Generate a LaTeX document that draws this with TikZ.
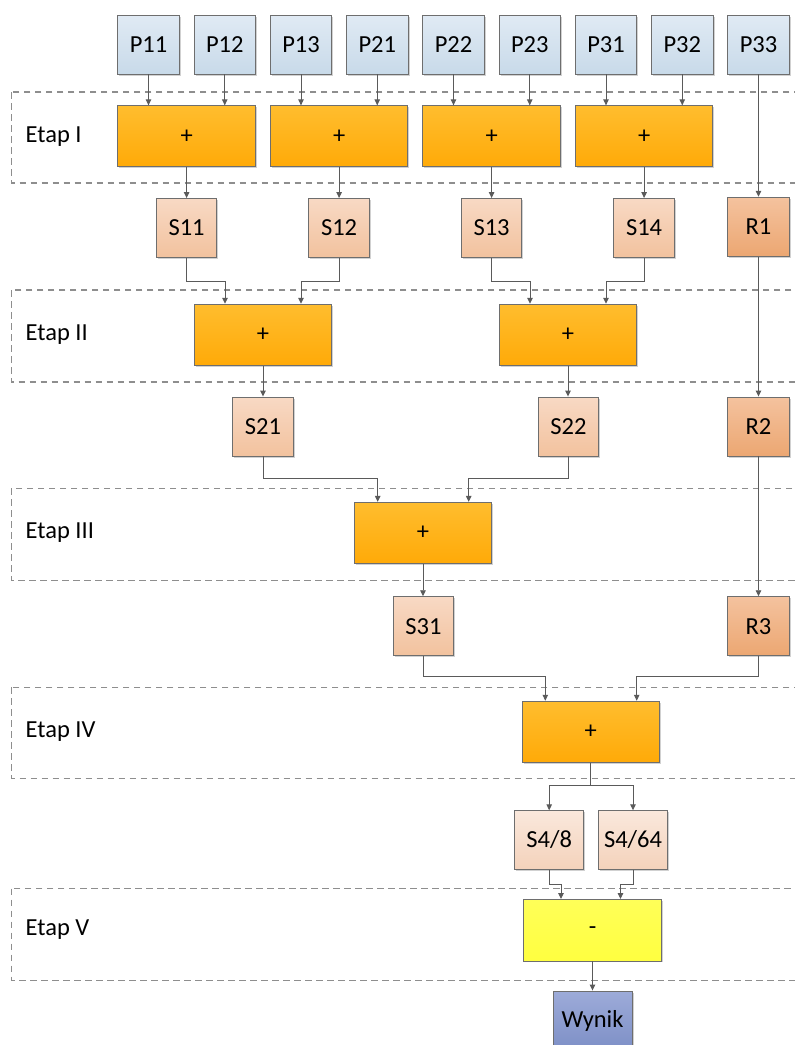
\documentclass[tikz,border=0pt]{standalone}
\usepackage{fontspec}
\setmainfont{Carlito}
\usetikzlibrary{arrows.meta,shadows}

\definecolor{boxline}{HTML}{6E6E6E}
\definecolor{lineC}{HTML}{5A5A5A}
\definecolor{dashC}{HTML}{8E8E8E}
\definecolor{pTop}{HTML}{E0EAF4}
\definecolor{pBot}{HTML}{C8DAE9}
\definecolor{oTop}{HTML}{FFBD2E}
\definecolor{oBot}{HTML}{FFAA08}
\definecolor{sTop}{HTML}{F8D9C4}
\definecolor{sBot}{HTML}{F2C29E}
\definecolor{rTop}{HTML}{F4C29E}
\definecolor{rBot}{HTML}{ECA772}
\definecolor{qTop}{HTML}{FAE8DC}
\definecolor{qBot}{HTML}{F4D2BB}
\definecolor{yTop}{HTML}{FFFF58}
\definecolor{yBot}{HTML}{FFFF40}
\definecolor{wTop}{HTML}{9DABD9}
\definecolor{wBot}{HTML}{7D8FC6}

\tikzset{
  txt/.style={font=\fontsize{24.5}{29}\selectfont, text=black},
  box/.style={txt, draw=boxline, line width=0.9pt, inner sep=0pt,
    minimum width=61.5pt, minimum height=59pt,
    drop shadow={shadow xshift=1.5pt, shadow yshift=-1.5pt, opacity=0.18, fill=black}},
  inbox/.style={box, top color=pTop, bottom color=pBot},
  addbox/.style={box, top color=oTop, bottom color=oBot, minimum width=137.5pt, minimum height=61pt},
  subbox/.style={box, top color=yTop, bottom color=yBot, minimum width=137.5pt, minimum height=61.5pt},
  sumbox/.style={box, top color=sTop, bottom color=sBot, minimum width=60.5pt},
  restbox/.style={box, top color=rTop, bottom color=rBot},
  divbox/.style={box, top color=qTop, bottom color=qBot, minimum width=69pt, minimum height=58.5pt},
  outbox/.style={box, top color=wTop, bottom color=wBot, minimum width=79pt, minimum height=60pt},
  band/.style={draw=dashC, line width=1.1pt, dash pattern=on 6.5pt off 4.5pt},
  lab/.style={txt, anchor=west, inner sep=0pt},
  conn/.style={draw=lineC, line width=0.9pt, -{Triangle[width=5.5pt,length=6pt]}},
}

\begin{document}
\begin{tikzpicture}[x=1pt, y=-1pt]
\useasboundingbox (0,0) rectangle (795,1045);
\clip (0,0) rectangle (795,1045);

% stage bands
\draw[band] (11.7,92) rectangle (810,183);
\draw[band] (11.7,290) rectangle (810,382);
\draw[band] (11.7,488.3) rectangle (810,580.7);
\draw[band] (11.7,687.3) rectangle (810,778.3);
\draw[band] (11.7,888.7) rectangle (810,980.3);

\node[lab] (L1) at (25.5,137) {Etap I};
\node[lab] (L2) at (25.5,335) {Etap II};
\node[lab] (L3) at (25.5,533) {Etap III};
\node[lab] (L4) at (25.5,731.5) {Etap IV};
\node[lab] (L5) at (25.5,930) {Etap V};

% inputs
\node[inbox] (P11) at (148.5,44.5) {P11};
\node[inbox] (P12) at (224.75,44.5) {P12};
\node[inbox] (P13) at (301,44.5) {P13};
\node[inbox] (P21) at (377.25,44.5) {P21};
\node[inbox] (P22) at (453.5,44.5) {P22};
\node[inbox] (P23) at (529.75,44.5) {P23};
\node[inbox] (P31) at (606,44.5) {P31};
\node[inbox] (P32) at (682.25,44.5) {P32};
\node[inbox] (P33) at (758.5,44.5) {P33};

% stage I
\node[addbox] (A1) at (186.6,136.3) {+};
\node[addbox] (A2) at (339.1,136.3) {+};
\node[addbox] (A3) at (491.6,136.3) {+};
\node[addbox] (A4) at (644.1,136.3) {+};

\node[sumbox] (S11) at (186.6,228) {S11};
\node[sumbox] (S12) at (339.1,228) {S12};
\node[sumbox] (S13) at (491.6,228) {S13};
\node[sumbox] (S14) at (644.1,228) {S14};
\node[restbox] (R1) at (758.5,226.7) {R1};

% stage II
\node[addbox] (B1) at (263,334.7) {+};
\node[addbox] (B2) at (568,334.7) {+};

\node[sumbox] (S21) at (263,426.5) {S21};
\node[sumbox] (S22) at (568.5,426.5) {S22};
\node[restbox] (R2) at (758.5,426.5) {R2};

% stage III
\node[addbox] (C1) at (423,532.8) {+};

\node[sumbox] (S31) at (423.5,626.2) {S31};
\node[restbox] (R3) at (758.5,626.2) {R3};

% stage IV
\node[addbox] (D1) at (590.8,731.7) {+};

\node[divbox] (S48) at (549.2,840) {S4/8};
\node[divbox] (S464) at (633,840) {S4/64};

% stage V
\node[subbox] (E1) at (592.5,930.2) {-};

\node[outbox] (W) at (592.5,1021) {Wynik};

% connectors, stage I
\foreach \p/\a in {P11/A1,P12/A1,P13/A2,P21/A2,P22/A3,P23/A3,P31/A4,P32/A4}
  \draw[conn] (\p.south) -- (\p.south |- \a.north);
\draw[conn] (P33.south) -- (R1.north);
\foreach \a/\s in {A1/S11,A2/S12,A3/S13,A4/S14}
  \draw[conn] (\a.south) -- (\s.north);

% connectors, stage II
\draw[conn] (S11.south) -- (S11.south |- 0,281) -| ([xshift=-38pt]B1.north);
\draw[conn] (S12.south) -- (S12.south |- 0,281) -| ([xshift=38pt]B1.north);
\draw[conn] (S13.south) -- (S13.south |- 0,281) -| ([xshift=-38pt]B2.north);
\draw[conn] (S14.south) -- (S14.south |- 0,281) -| ([xshift=38pt]B2.north);
\draw[conn] (R1.south) -- (R2.north);
\draw[conn] (B1.south) -- (S21.north);
\draw[conn] (B2.south) -- (B2.south |- S22.north);

% connectors, stage III
\draw[conn] (S21.south) -- (S21.south |- 0,478.3) -| ([xshift=-45.3pt]C1.north);
\draw[conn] (S22.south) -- (S22.south |- 0,478.3) -| ([xshift=45.7pt]C1.north);
\draw[conn] (R2.south) -- (R3.north);
\draw[conn] (C1.south) -- (C1.south |- S31.north);

% connectors, stage IV
\draw[conn] (S31.south) -- (S31.south |- 0,676.5) -| ([xshift=-45.5pt]D1.north);
\draw[conn] (R3.south) -- (R3.south |- 0,676.5) -| ([xshift=45.9pt]D1.north);
\draw[conn] (D1.south) -- (D1.south |- 0,785) -| (S48.north);
\draw[conn] (D1.south) -- (D1.south |- 0,785) -| (S464.north);

% connectors, stage V
\draw[conn] (S48.south) -- (S48.south |- 0,884.3) -| ([xshift=-31.5pt]E1.north);
\draw[conn] (S464.south) -- (S464.south |- 0,884.3) -| ([xshift=28pt]E1.north);
\draw[conn] (E1.south) -- (W.north);
\end{tikzpicture}
\end{document}
